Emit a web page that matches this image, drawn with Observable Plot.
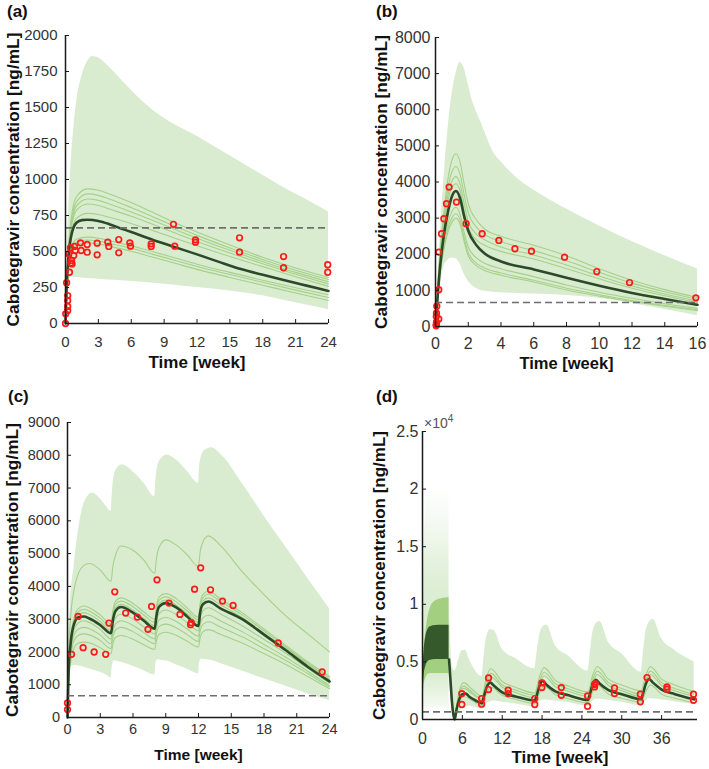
<!DOCTYPE html>
<html><head><meta charset="utf-8">
<script src="https://cdn.jsdelivr.net/npm/d3@7"></script>
<script src="https://cdn.jsdelivr.net/npm/@observablehq/plot@0.6"></script>
<style>
body{margin:0;background:#fff;}
#wrap{position:relative;width:709px;height:769px;overflow:hidden;font-family:"Liberation Sans",Arial,sans-serif;}
.lab{position:absolute;font-weight:bold;font-size:17px;line-height:1;color:#111;}
.exp{position:absolute;font-size:14px;line-height:1;color:#555;}
</style></head><body><div id="wrap"></div>
<script>
// ---------- Panel (a) ----------
const aBandT = [0,0.1,0.25,0.5,0.75,1,1.5,2,2.5,3,4,5,6,8,10,12,14,16,18,20,22,24];
const aBandHi = [0,300,700,1100,1350,1530,1720,1820,1855,1845,1780,1700,1620,1480,1380,1300,1210,1120,1030,940,860,775];
const aBandLo = [0,150,280,320,322,320,316,313,310,308,302,297,292,280,266,250,235,215,192,160,128,95];
const aT = [0,0.1,0.25,0.5,0.75,1,1.5,2,3,4,5,6,8,10,12,14,16,18,20,22,24];
const aMed = [0,250,450,600,670,700,718,720,712,690,662,635,580,530,480,428,378,338,300,263,226];
const aThinT = [0,0.1,0.25,0.5,1,2,3,4,6,8,10,12,15,18,21,24];
const aThin1 = [0,250,500,720,880,935,925,900,840,770,700,635,545,460,385,320];
const aThin2 = [0,240,480,690,845,900,890,865,805,740,675,612,525,445,370,305];
const aThin3 = [0,230,470,670,815,865,855,830,775,715,652,592,508,430,355,290];
const aThin4 = [0,220,455,650,785,830,820,795,745,688,628,570,490,415,342,275];
const aThin5 = [0,210,430,610,730,765,757,738,695,645,592,540,465,395,325,258];
const aThin6 = [0,190,380,520,585,600,592,575,540,498,455,412,355,300,248,200];
const aThin7 = [0,180,365,500,565,580,572,556,522,480,438,396,340,286,232,180];
const aThin8 = [0,170,350,485,545,560,552,536,502,460,418,376,320,266,212,160];
const aPtT = [0,0.02,0.2,0.2,0.2,0.2,0.1,0.36,0.6,0.55,0.75,0.3,0.9,0.45,0.82,0.5,1.37,1.43,1.98,1.98,2.89,2.89,3.86,3.95,4.86,4.86,5.87,5.93,7.82,7.82,9.85,9.97,11.86,11.86,15.88,15.88,19.9,19.9,23.93,23.93];
const aPtV = [0,67,90,118,160,194,283,356,414,438,472,484,507,526,535,420,560,507,549,495,558,477,565,535,583,491,560,537,553,535,689,537,581,565,595,495,465,387,408,356];
const aXTicks = [0,3,6,9,12,15,18,21,24];
const aYTicks = [0,250,500,750,1000,1250,1500,1750,2000];

// ---------- Panel (b) ----------
const bBandT = [0,0.25,0.5,0.75,1,1.25,1.5,1.75,2,2.25,2.5,2.75,3,3.5,4,5,6,8,10,12,14,16];
const bBandHi = [0,2200,4000,5400,6400,7000,7310,7150,6700,6250,5950,5680,5400,4850,4560,4100,3780,3250,2780,2350,1960,1590];
const bBandLo = [0,1000,1650,1830,1895,1880,1730,1450,1250,1130,1050,1000,975,950,935,915,900,860,780,640,470,300];
const bT = [0,0.25,0.5,0.75,1,1.25,1.5,1.75,2,2.5,3,4,6,8,10,12,14,16];
const bMed = [0,1500,2500,3150,3600,3750,3550,3050,2650,2250,2020,1800,1580,1350,1130,930,760,600];
const bThin1 = [0,1900,3100,4050,4600,4780,4550,3950,3400,2950,2700,2500,2250,1960,1600,1280,1020,800];
const bThin2 = [0,1800,2950,3800,4280,4430,4220,3650,3150,2750,2550,2350,2100,1820,1500,1200,960,750];
const bThin3 = [0,1700,2800,3600,4020,4150,3950,3400,2900,2550,2400,2200,1980,1700,1400,1120,900,700];
const bThin4 = [0,1650,2700,3450,3850,3950,3750,3200,2750,2400,2250,2080,1870,1600,1320,1060,850,660];
const bThin5 = [0,1450,2300,2850,3180,3300,3100,2600,2200,1900,1750,1600,1380,1150,950,780,630,500];
const bThin6 = [0,1400,2200,2700,3000,3120,2950,2450,2050,1750,1620,1480,1280,1060,880,720,580,460];
const bThin7 = [0,1350,2100,2600,2880,3000,2830,2350,1950,1680,1550,1420,1230,1010,840,690,560,440];
const bPtT = [0.04,0.05,0.06,0.05,0.2,0.06,0.08,0.2,0.2,0.37,0.51,0.67,0.83,1.28,1.87,2.85,3.87,4.85,5.86,7.88,9.85,11.85,15.9];
const bPtV = [20,55,120,280,210,370,560,1017,2058,2568,2983,3399,3859,3443,2845,2568,2382,2152,2086,1920,1521,1217,793];
const bXTicks = [0,2,4,6,8,10,12,14,16];
const bYTicks = [0,1000,2000,3000,4000,5000,6000,7000,8000];

// ---------- Panel (c) ----------
const cBandT = [0,0.1,0.25,0.6,1.2,1.8,2.3,3,3.6,3.99,4.1,4.25,4.6,5,6,7,7.99,8.1,8.25,8.6,9.1,10,11,11.99,12.1,12.25,12.6,13.2,14,16,18,20,22,24];
const cBandHi = [0,2200,3400,4600,6100,6720,6850,6670,6420,6290,6800,7330,7620,7710,7500,7150,6740,7250,7650,7900,8010,7850,7500,7150,7650,7950,8150,8230,8050,7150,6150,5200,4250,3320];
const cBandLo = [0,900,1550,1590,1560,1500,1450,1380,1290,1200,1550,1720,1710,1680,1560,1430,1300,1650,1760,1750,1720,1600,1470,1330,1680,1780,1770,1740,1650,1420,1180,950,720,520];
const cT = [0,0.1,0.3,0.6,1,1.5,2,3,3.99,4.15,4.4,4.9,6,7,7.99,8.15,8.4,9,10,11,11.99,12.15,12.4,12.9,14,16,18,20,22,24];
const cMed = [0,1400,2300,2850,3060,3080,3020,2820,2570,2950,3250,3370,3200,2950,2710,3100,3380,3490,3350,3070,2790,3200,3450,3540,3330,3000,2530,2050,1550,1100];
const cThinTop = [0,1800,3100,3900,4400,4640,4700,4500,4160,4600,4950,5230,5100,4800,4400,4850,5200,5420,5250,4950,4610,5050,5350,5540,5250,4450,3750,3100,2550,2000];
const cThinA = [0,1500,2450,3050,3320,3400,3350,3130,2850,3250,3550,3650,3480,3220,3000,3400,3680,3780,3620,3330,3060,3480,3750,3850,3620,3200,2700,2200,1700,1250];
const cThinB = [0,1450,2400,2980,3230,3300,3250,3030,2750,3150,3450,3550,3380,3120,2900,3300,3580,3680,3520,3240,2980,3380,3650,3760,3540,3130,2640,2150,1660,1200];
const cThinC = [0,1400,2330,2900,3140,3200,3150,2930,2650,3050,3350,3450,3280,3020,2800,3200,3480,3580,3420,3150,2900,3290,3550,3650,3440,3050,2570,2100,1620,1150];
const cThinD = [0,1300,2150,2680,2890,2950,2900,2690,2400,2780,3050,3150,3000,2760,2550,2920,3180,3280,3130,2880,2650,3000,3250,3350,3160,2800,2380,1960,1500,1050];
const cThinE = [0,1250,2020,2520,2700,2750,2710,2520,2250,2600,2860,2950,2810,2590,2400,2740,2980,3050,2920,2690,2480,2820,3040,3120,2950,2620,2230,1840,1410,980];
const cThinF = [0,1150,1880,2340,2510,2550,2520,2350,2100,2430,2670,2750,2620,2420,2250,2560,2780,2850,2730,2520,2320,2630,2840,2920,2760,2460,2100,1740,1340,930];
const cThinG = [0,1050,1720,2130,2270,2300,2280,2130,1950,2230,2440,2500,2390,2220,2080,2350,2540,2600,2500,2320,2150,2420,2610,2680,2540,2270,1950,1620,1250,880];
const cPtT = [0,0,0.37,0.97,1.43,2.44,3.5,3.8,4.33,5.33,6.4,7.37,7.7,8.2,9.3,10.3,11.27,11.33,11.64,12.2,13.1,14.2,15.17,19.3,23.33];
const cPtV = [243,446,1928,3084,2131,1999,1928,2881,3835,3186,3064,2689,3389,4200,3490,3145,2831,2892,3916,4566,3896,3551,3419,2273,1390];
const cXTicks = [0,3,6,9,12,15,18,21,24];
const cYTicks = [0,1000,2000,3000,4000,5000,6000,7000,8000,9000];

// ---------- Panel (d) (values in units of 10^4 ng/mL) ----------
const dBlockT = [0,0.1,0.25,0.5,0.8,1.2,2,3,4];
const dDarkHi = [0.2,0.45,0.6,0.72,0.78,0.805,0.815,0.818,0.818];
const dDarkLo = [0.15,0.25,0.38,0.46,0.5,0.515,0.52,0.52,0.52];
const dMidHi = [0.22,0.5,0.62,0.76,0.88,0.97,1.03,1.05,1.06];
const dMidLo = [0.12,0.2,0.3,0.36,0.39,0.4,0.4,0.4,0.4];
const dFadeHi = [0.3,1.0,1.5,1.8,1.95,2.0,2.02,2.03,2.03];
const dFadeLo = [0.05,0.08,0.1,0.1,0.1,0.1,0.1,0.1,0.1];
const dT = [4.0,4.2,4.4,4.6,4.85,5.1,5.5,6.0,6.5,7,8,8.95,9.2,9.6,10.2,10.8,12,14,16.9,17.2,17.6,18.1,18.7,20,22,24.9,25.2,25.6,26.1,26.7,28,30,32.9,33.2,33.6,34.1,34.7,36,38,40.9];
const dMed = [0.52,0.35,0.18,0.06,0.0,0.08,0.17,0.22,0.225,0.2,0.165,0.14,0.19,0.27,0.32,0.29,0.235,0.2,0.165,0.21,0.29,0.335,0.3,0.245,0.21,0.17,0.22,0.3,0.345,0.31,0.255,0.22,0.176,0.225,0.305,0.352,0.32,0.26,0.22,0.175];
const dHi = [1.06,0.75,0.5,0.44,0.42,0.45,0.53,0.6,0.6,0.53,0.42,0.37,0.5,0.7,0.78,0.77,0.61,0.53,0.44,0.56,0.72,0.8,0.82,0.64,0.55,0.42,0.55,0.74,0.83,0.85,0.67,0.57,0.41,0.55,0.75,0.84,0.87,0.7,0.6,0.5];
const dLo = [0.4,0.25,0.1,0.02,0.0,0.02,0.06,0.1,0.115,0.115,0.105,0.09,0.1,0.13,0.155,0.16,0.15,0.135,0.11,0.12,0.15,0.17,0.17,0.16,0.145,0.115,0.125,0.155,0.175,0.175,0.165,0.15,0.12,0.13,0.16,0.18,0.18,0.17,0.155,0.13];
const dThinT = [4.85,5.5,6.2,7.5,8.95,9.6,10.3,12,14,16.9,17.6,18.3,20,22,24.9,25.6,26.3,28,30,32.9,33.6,34.3,36,38,40.9];
const dThin1 = [0.0,0.24,0.32,0.26,0.2,0.36,0.44,0.33,0.28,0.23,0.37,0.45,0.34,0.29,0.24,0.38,0.46,0.35,0.3,0.25,0.38,0.46,0.35,0.3,0.24];
const dThin2 = [0.0,0.22,0.29,0.235,0.18,0.33,0.40,0.30,0.255,0.21,0.335,0.41,0.31,0.265,0.22,0.345,0.42,0.32,0.27,0.22,0.345,0.42,0.32,0.27,0.22];
const dThin3 = [0.0,0.2,0.27,0.22,0.17,0.3,0.37,0.28,0.235,0.19,0.31,0.38,0.285,0.245,0.2,0.32,0.39,0.295,0.25,0.2,0.32,0.39,0.295,0.25,0.2];
const dThin4 = [0.0,0.15,0.2,0.165,0.12,0.22,0.28,0.21,0.175,0.14,0.23,0.29,0.215,0.18,0.145,0.24,0.3,0.22,0.185,0.15,0.24,0.3,0.22,0.185,0.145];
const dPtT = [5.92,5.92,8.9,8.9,9.94,9.94,12.9,12.9,16.9,16.9,17.97,17.97,20.9,20.9,24.85,24.85,25.9,25.9,26,28.9,28.9,32.8,32.8,33.8,36.8,36.8,40.8,40.8];
const dPtV = [0.225,0.13,0.182,0.133,0.361,0.26,0.254,0.225,0.182,0.13,0.318,0.277,0.277,0.21,0.205,0.115,0.303,0.283,0.312,0.274,0.225,0.219,0.153,0.364,0.283,0.263,0.219,0.167];
const dXTicks = [0,6,12,18,24,30,36];
const dYTicks = [0,0.5,1,1.5,2,2.5];

const threshold = 664; // ng/mL
const xLabel = "Time [week]";
const yLabel = "Cabotegravir concentration [ng/mL]";

// ---------- helpers ----------
const C = {band:"#d9ecd0", thin:"#a5d089", med:"#2c4a28", red:"#ff1a1a", dash:"#6e6e6e", mid:"#a2cf80", dark:"#35592b", axis:"#1a1a1a"};
const bandRows = (t, lo, hi) => t.map((x,i)=>({t:x, lo:lo[i], hi:hi[i]}));
const lineRows = (t, v) => t.map((x,i)=>({t:x, v:v[i]}));
const multiRows = (t, arrs) => arrs.flatMap((a,j)=>t.map((x,i)=>({t:x, v:a[i], z:j})));
const ptRows = (t, v) => t.map((x,i)=>({t:x, v:v[i]}));
const wrap = document.getElementById("wrap");

function std(band, thin, med, pts, thr, xmax) {
  return [
    Plot.areaY(band, {x:"t", y1:"lo", y2:"hi", fill:C.band, curve:"monotone-x"}),
    Plot.line(thin, {x:"t", y:"v", z:"z", stroke:C.thin, strokeWidth:1.1, curve:"monotone-x"}),
    Plot.line(med, {x:"t", y:"v", stroke:C.med, strokeWidth:2.6, curve:"monotone-x"}),
    Plot.ruleY([thr], {x1:0, x2:xmax, stroke:C.dash, strokeWidth:1.6, strokeDasharray:"7,4"}),
    Plot.dot(pts, {x:"t", y:"v", r:2.8, stroke:C.red, strokeWidth:1.7, fill:"none"})
  ];
}

function panel(cfg) {
  const {left, top, width, height, fl, ft, fr, fb, xd, yd, xt, yt, fs, lfs, yfs, xpad, ypad, ylabDx, xlabDy, marks, fmt} = cfg;
  const iw = fr - fl, ih = fb - ft;
  const svg = Plot.plot({
    width, height,
    marginLeft: fl - left, marginTop: ft - top, marginRight: left + width - fr, marginBottom: top + height - fb,
    x: {domain: xd}, y: {domain: yd},
    style: {fontFamily: '"Liberation Sans", Arial, sans-serif', color: "#333", background: "transparent", overflow: "visible"},
    marks: [
      ...marks,
      Plot.ruleX([xd[0]], {stroke: C.axis, strokeWidth: 1.5}),
      Plot.ruleY([yd[0]], {stroke: C.axis, strokeWidth: 1.5}),
      Plot.tickX(xt, {x: d => d, insetTop: ih - 4, stroke: C.axis}),
      Plot.tickY(yt, {y: d => d, insetRight: iw - 4, stroke: C.axis}),
      Plot.axisX({ticks: xt, tickSize: 0, tickPadding: xpad, label: null, fontSize: fs, tickFormat: fmt}),
      Plot.axisY({ticks: yt, tickSize: 0, tickPadding: ypad, label: null, fontSize: fs, tickFormat: fmt}),
      Plot.text([xLabel], {text: d => d, frameAnchor: "bottom", dy: xlabDy, textAnchor: "middle", lineAnchor: "middle", fontWeight: "bold", fontSize: lfs, fill: "#111"}),
      Plot.text([yLabel], {text: d => d, frameAnchor: "left", dx: ylabDx, rotate: -90, textAnchor: "middle", lineAnchor: "middle", fontWeight: "bold", fontSize: yfs, fill: "#111"})
    ]
  });
  svg.style.position = "absolute";
  svg.style.left = left + "px";
  svg.style.top = top + "px";
  wrap.appendChild(svg);
}
const fmt = d => String(d);

// (a)
panel({left:0, top:20, width:354, height:362, fl:65, ft:35, fr:328, fb:323,
  xd:[0,24], yd:[0,2000], xt:aXTicks, yt:aYTicks, fs:15, lfs:17, yfs:17.3, xpad:13, ypad:8, ylabDx:-52, xlabDy:39, fmt,
  marks: std(bandRows(aBandT,aBandLo,aBandHi), multiRows(aThinT,[aThin1,aThin2,aThin3,aThin4,aThin5,aThin6,aThin7,aThin8]),
    lineRows(aT,aMed), ptRows(aPtT,aPtV), threshold, 24)});

// (b)
panel({left:354, top:20, width:355, height:362, fl:435, ft:37, fr:697, fb:326,
  xd:[0,16], yd:[0,8000], xt:bXTicks, yt:bYTicks, fs:16, lfs:16.5, yfs:17.3, xpad:11.5, ypad:5, ylabDx:-54, xlabDy:37, fmt,
  marks: std(bandRows(bBandT,bBandLo,bBandHi), multiRows(bT,[bThin1,bThin2,bThin3,bThin4,bThin5,bThin6,bThin7]),
    lineRows(bT,bMed), ptRows(bPtT,bPtV), threshold, 16)});

// (c)
panel({left:0, top:405, width:354, height:364, fl:67, ft:422, fr:329, fb:717,
  xd:[0,24], yd:[0,9000], xt:cXTicks, yt:cYTicks, fs:14.5, lfs:15.5, yfs:17.3, xpad:6, ypad:7.5, ylabDx:-55, xlabDy:38, fmt,
  marks: std(bandRows(cBandT,cBandLo,cBandHi), multiRows(cT,[cThinTop,cThinA,cThinB,cThinC,cThinD,cThinE,cThinF,cThinG]),
    lineRows(cT,cMed), ptRows(cPtT,cPtV), threshold, 24)});

// (d)
const fadeDefs = () => {
  const ns = "http://www.w3.org/2000/svg";
  const defs = document.createElementNS(ns, "defs");
  const g = document.createElementNS(ns, "linearGradient");
  g.setAttribute("id", "fadeD"); g.setAttribute("x1", "0"); g.setAttribute("x2", "0"); g.setAttribute("y1", "0"); g.setAttribute("y2", "1");
  [[0,0],[0.17,0.3],[0.37,0.75],[0.49,0.95],[0.82,1],[0.9,0.65],[1,0.1]].forEach(([o,op]) => {
    const s = document.createElementNS(ns, "stop");
    s.setAttribute("offset", o); s.setAttribute("stop-color", C.band); s.setAttribute("stop-opacity", op);
    g.appendChild(s);
  });
  defs.appendChild(g);
  return defs;
};
panel({left:354, top:405, width:355, height:364, fl:422, ft:431, fr:697, fb:719,
  xd:[0,41.4], yd:[0,2.5], xt:dXTicks, yt:dYTicks, fs:16, lfs:17, yfs:17, xpad:13, ypad:4, ylabDx:-43, xlabDy:38, fmt,
  marks: [
    fadeDefs,
    Plot.areaY(bandRows(dBlockT,dFadeLo,dFadeHi), {x:"t", y1:"lo", y2:"hi", fill:"url(#fadeD)", curve:"monotone-x"}),
    Plot.areaY(bandRows(dT,dLo,dHi), {x:"t", y1:"lo", y2:"hi", fill:C.band, curve:"monotone-x"}),
    Plot.areaY(bandRows(dBlockT,dMidLo,dMidHi), {x:"t", y1:"lo", y2:"hi", fill:C.mid, curve:"monotone-x"}),
    Plot.areaY(bandRows(dBlockT,dDarkLo,dDarkHi), {x:"t", y1:"lo", y2:"hi", fill:C.dark, curve:"monotone-x"}),
    Plot.line(multiRows(dThinT,[dThin1,dThin2,dThin3,dThin4]), {x:"t", y:"v", z:"z", stroke:C.thin, strokeWidth:1.1, curve:"monotone-x"}),
    Plot.line(lineRows(dT,dMed), {x:"t", y:"v", stroke:C.med, strokeWidth:2.6, curve:"monotone-x"}),
    Plot.ruleY([threshold/10000], {x1:0, x2:41.4, stroke:C.dash, strokeWidth:1.6, strokeDasharray:"7,4"}),
    Plot.dot(ptRows(dPtT,dPtV), {x:"t", y:"v", r:2.8, stroke:C.red, strokeWidth:1.7, fill:"none"})
  ]});

// panel letters and exponent
[["(a)",7,3],["(b)",376,3],["(c)",8,388],["(d)",376,388]].forEach(([s,x,y])=>{
  const d=document.createElement("div"); d.className="lab"; d.textContent=s; d.style.left=x+"px"; d.style.top=y+"px"; wrap.appendChild(d);
});
const ex=document.createElement("div"); ex.className="exp"; ex.innerHTML="×10<sup style='font-size:10px'>4</sup>";
ex.style.left="424px"; ex.style.top="414px"; wrap.appendChild(ex);
</script>
</body></html>
